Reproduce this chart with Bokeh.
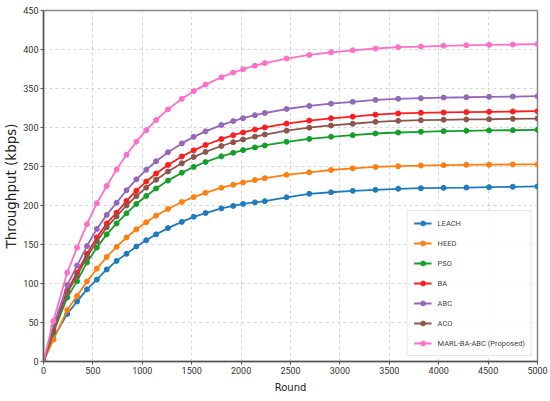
from bokeh.plotting import figure
from bokeh.embed import file_html
from bokeh.resources import INLINE
from bokeh.models import FixedTicker, Range1d

rounds = [0, 100, 240, 340, 440, 540, 640, 740, 840, 940, 1040, 1140, 1260, 1400,
          1520, 1640, 1800, 1920, 2020, 2140, 2240, 2460, 2690, 2910, 3130, 3360,
          3590, 3820, 4050, 4280, 4510, 4750, 5000]

leach = [0, 30, 61, 77, 92.5, 105, 118, 129, 138, 147.5, 155.5, 163, 171, 179,
         185.5, 190.3, 196.3, 199.5, 202, 204, 205.5, 210.5, 215, 217, 218.8, 220.1,
         221.4, 222.2, 222.7, 223, 223.5, 224, 224.4]
heed = [0, 28, 66, 84, 102.5, 119, 134, 147, 159, 169.5, 178.5, 187, 195.5, 204.5,
        210.8, 216.3, 222.8, 226.6, 229.5, 232.6, 235, 239.3, 242.5, 245.5, 247.6, 249.4,
        250.4, 251.2, 251.7, 252.1, 252.3, 252.6, 252.7]
pso = [0, 37, 82, 103, 127, 146, 163, 177, 190, 202, 212.2, 221.8, 231.9, 242,
       249.5, 255.8, 263, 267.6, 271, 274.5, 277, 281.7, 285.4, 288.1, 290.2, 292.3,
       293.6, 294.5, 295.3, 295.8, 296.2, 296.5, 297]
ba = [0, 41, 91, 114, 138, 159, 177, 190.8, 205.8, 219, 230.7, 241, 252, 262.8,
      270.7, 277.6, 285.2, 290.1, 293.6, 297.4, 300.1, 305, 308.9, 311.8, 313.9, 316.5,
      318, 318.8, 319.3, 319.7, 320.1, 320.5, 320.9]
abc = [0, 45, 98, 123, 148, 170, 188, 203.6, 219.5, 233.5, 245.8, 256.8, 268.3, 279.6,
       288, 295.1, 303.1, 308.2, 311.9, 315.8, 318.6, 323.7, 327.7, 330.6, 332.9, 335.3,
       336.8, 337.6, 338.4, 338.8, 339.3, 339.7, 340.1]
aco = [0, 40, 88, 110, 134, 154, 172, 186, 200, 212, 222.9, 233, 243.6, 254.2,
       262.1, 268.7, 276.3, 281.1, 284.6, 288.3, 291, 295.9, 299.8, 302.6, 304.8, 307.3,
       308.6, 309.4, 309.9, 310.3, 310.6, 311.1, 311.5]
marl = [0, 52, 114, 146, 176, 203, 225, 246.2, 265.1, 281.8, 296.6, 309.6, 323.2, 336.8,
        346.6, 355, 364.4, 370.4, 374.7, 379.2, 382.5, 388.4, 393.1, 396.4, 399, 401.3,
        403, 403.8, 404.7, 405.4, 406, 406.4, 406.8]

names = ["LEACH", "HEED", "PSO", "BA", "ABC", "ACO", "MARL-BA-ABC (Proposed)"]
series = [leach, heed, pso, ba, abc, aco, marl]
colors = ["#1f7bc0", "#ff7f0e", "#12a02a", "#ff1c1c", "#9467bd", "#8c564b", "#ff6ec7"]

x_ticks = [0, 500, 1000, 1500, 2000, 2500, 3000, 3500, 4000, 4500, 5000]
y_ticks = [0, 50, 100, 150, 200, 250, 300, 350, 400, 450]

p = figure(width=550, height=401, output_backend="svg", toolbar_location=None,
           x_range=Range1d(0, 5000), y_range=Range1d(0, 450),
           min_border_left=40, min_border_right=13, min_border_top=10, min_border_bottom=40)

for name, ys, c in zip(names, series, colors):
    p.line(rounds, ys, color=c, line_width=1.8, legend_label=name)
    p.scatter(rounds, ys, color=c, size=5, legend_label=name)

p.xaxis.ticker = FixedTicker(ticks=x_ticks)
p.yaxis.ticker = FixedTicker(ticks=y_ticks)
p.xaxis.axis_label = "Round"
p.yaxis.axis_label = "Throughput (kbps)"
for ax in (p.xaxis, p.yaxis):
    ax.axis_label_text_font = "DejaVu Sans"
    ax.axis_label_text_font_style = "normal"
    ax.axis_label_text_color = "#222222"
    ax.major_label_text_font = "Roboto"
    ax.major_label_text_font_size = "9px"
    ax.major_label_text_color = "#333333"
    ax.axis_line_color = "#555555"
    ax.axis_line_width = 1.5
    ax.major_tick_line_color = "#555555"
    ax.major_tick_out = 3
    ax.major_tick_in = 0
    ax.minor_tick_line_color = None
    ax.major_label_standoff = 2
    ax.axis_label_standoff = 2
p.xaxis.axis_label_text_font_size = "10px"
p.yaxis.axis_label_text_font_size = "13.5px"
p.yaxis.axis_label_standoff = 1
p.xaxis.axis_label_standoff = 5

p.grid.grid_line_color = "#cccccc"
p.grid.grid_line_dash = "3 3"
p.grid.grid_line_width = 0.8
p.outline_line_color = "#888888"
p.outline_line_width = 1.5

lg = p.legend[0]
lg.location = "bottom_right"
lg.margin = 5
lg.padding = 6
lg.spacing = 8
lg.glyph_width = 18
lg.glyph_height = 12
lg.label_standoff = 6
lg.label_text_font = "Roboto"
lg.label_text_font_size = "7.5px"
lg.label_height = 12
lg.border_line_color = "#cccccc"
lg.background_fill_alpha = 0.85

open("out.html", "w").write(file_html(p, INLINE))
